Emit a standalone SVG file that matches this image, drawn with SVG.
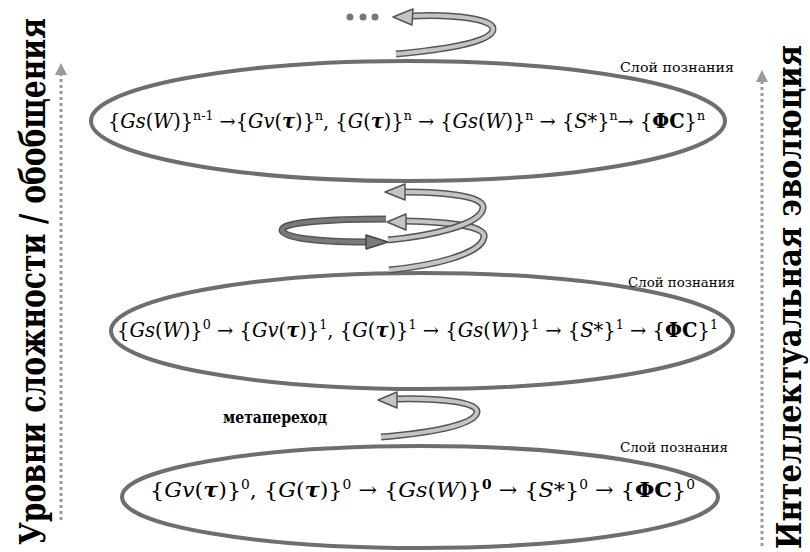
<svg xmlns="http://www.w3.org/2000/svg" width="810" height="552" viewBox="0 0 810 552" font-family="DejaVu Serif">
<style>
.ell{fill:none;stroke:#6e6e6e;stroke-width:4}
.formula{font-size:20px}
.i{font-style:italic}
.bi{font-style:italic;font-weight:bold}
.b{font-weight:bold}
.sup{font-size:13px;baseline-shift:8px}
.lbl{font-size:13.5px}
.side{font-size:29px;font-weight:bold}
.bo{fill:none;stroke:#555;stroke-width:7;stroke-linecap:butt}
.bl{fill:none;stroke:#c4c4c4;stroke-width:4;stroke-linecap:butt}
.bd{fill:none;stroke:#7a7a7a;stroke-width:4;stroke-linecap:butt}
.hl{fill:#c4c4c4;stroke:#555;stroke-width:1.5;stroke-linejoin:round}
.hd{fill:#7a7a7a;stroke:#444;stroke-width:1.5;stroke-linejoin:round}
.dot{fill:none;stroke:#9a9a9a;stroke-width:3;stroke-dasharray:3 3}
</style>
<defs>
<marker id="tri" viewBox="0 0 10 10" refX="0" refY="5" markerWidth="4" markerHeight="4.5" orient="auto" markerUnits="strokeWidth">
<path d="M0,0 L10,5 L0,10 Z" fill="#999"/>
</marker>
</defs>

<g id="layer-n">
<ellipse class="ell" cx="408" cy="121" rx="317" ry="60"/>
<text class="lbl" font-family="DejaVu Serif" x="620" y="72" textLength="114" lengthAdjust="spacingAndGlyphs">Слой познания</text>
<text class="formula" font-family="DejaVu Serif" x="108" y="128" textLength="597" lengthAdjust="spacingAndGlyphs">{<tspan class="i">Gs</tspan>(<tspan class="i">W</tspan>)}<tspan class="sup">n-1</tspan> →{<tspan class="i">Gv</tspan>(<tspan class="bi">τ</tspan>)}<tspan class="sup">n</tspan>, {<tspan class="i">G</tspan>(<tspan class="bi">τ</tspan>)}<tspan class="sup">n</tspan> → {<tspan class="i">Gs</tspan>(<tspan class="i">W</tspan>)}<tspan class="sup">n</tspan> → {<tspan class="i">S</tspan>*}<tspan class="sup">n</tspan>→ {<tspan class="b">ΦC</tspan>}<tspan class="sup">n</tspan></text>
</g>

<g id="layer-1">
<ellipse class="ell" cx="422" cy="331" rx="311" ry="58"/>
<text class="lbl" font-family="DejaVu Serif" x="628" y="287" textLength="107" lengthAdjust="spacingAndGlyphs">Слой познания</text>
<text class="formula" font-family="DejaVu Serif" x="117" y="337" textLength="601" lengthAdjust="spacingAndGlyphs">{<tspan class="i">Gs</tspan>(<tspan class="i">W</tspan>)}<tspan class="sup">0</tspan> → {<tspan class="i">Gv</tspan>(<tspan class="bi">τ</tspan>)}<tspan class="sup">1</tspan>, {<tspan class="i">G</tspan>(<tspan class="bi">τ</tspan>)}<tspan class="sup">1</tspan> → {<tspan class="i">Gs</tspan>(<tspan class="i">W</tspan>)}<tspan class="sup">1</tspan> → {<tspan class="i">S</tspan>*}<tspan class="sup">1</tspan> → {<tspan class="b">ΦC</tspan>}<tspan class="sup">1</tspan></text>
</g>

<g id="layer-0">
<ellipse class="ell" cx="420" cy="497" rx="298" ry="51"/>
<text class="lbl" font-family="DejaVu Serif" x="620" y="452" textLength="108" lengthAdjust="spacingAndGlyphs">Слой познания</text>
<text class="formula" font-family="DejaVu Serif" x="150" y="497" textLength="545" lengthAdjust="spacingAndGlyphs" style="font-size:21px">{<tspan class="i">Gv</tspan>(<tspan class="bi">τ</tspan>)}<tspan class="sup">0</tspan>, {<tspan class="i">G</tspan>(<tspan class="bi">τ</tspan>)}<tspan class="sup">0</tspan> → {<tspan class="i">Gs</tspan>(<tspan class="i">W</tspan>)}<tspan class="sup b">0</tspan> → {<tspan class="i">S</tspan>*}<tspan class="sup">0</tspan> → {<tspan class="b">ΦC</tspan>}<tspan class="sup">0</tspan></text>
</g>

<g id="metatransition-label">
<text class="b" font-family="DejaVu Serif" x="223" y="423" style="font-size:16px" textLength="104" lengthAdjust="spacingAndGlyphs">метапереход</text>
</g>

<g id="axis-left">
<text class="side" font-family="DejaVu Serif" transform="translate(45,545) rotate(-90) scale(1,1.2)" textLength="527" lengthAdjust="spacingAndGlyphs">Уровни сложности / обобщения</text>
</g>
<g id="axis-right">
<text class="side" font-family="DejaVu Serif" transform="translate(801,549) rotate(-90) scale(1,1.2)" style="font-size:28px" textLength="504" lengthAdjust="spacingAndGlyphs">Интеллектуальная эволюция</text>
</g>

<g id="connectors">
<line class="dot" x1="61" y1="520" x2="61" y2="75" marker-end="url(#tri)"/>
<line class="dot" x1="762" y1="546" x2="762" y2="82" marker-end="url(#tri)"/>

<g id="spiral-top">
<path class="bo" d="M411,16 C455,14 495,19 493,30 C490,43 440,50 396,54"/>
<path class="bl" d="M411,16 C455,14 495,19 493,30 C490,43 440,50 396,54"/>
<polygon class="hl" points="393,17 413,9 412,25"/>
<circle cx="350" cy="17" r="3.5" fill="#777"/>
<circle cx="363" cy="17" r="3.5" fill="#777"/>
<circle cx="375" cy="17" r="3.5" fill="#777"/>
</g>

<g id="spiral-middle">
<path class="bo" d="M404,221 C450,222 486,226 484,237 C481,255 430,266 389,270"/>
<path class="bl" d="M404,221 C450,222 486,226 484,237 C481,255 430,266 389,270"/>
<polygon class="hl" points="387,222 406,214 406,230"/>
<path class="bo" d="M404,192 C450,192 485,197 483,208 C481,225 430,236 388,240"/>
<path class="bl" d="M404,192 C450,192 485,197 483,208 C481,225 430,236 388,240"/>
<polygon class="hl" points="385,192 405,184 405,200"/>
<path class="bo" d="M386,219 C330,219 282,222 282,230 C282,238 320,242 367,242"/>
<path class="bd" d="M386,219 C330,219 282,222 282,230 C282,238 320,242 367,242"/>
<polygon class="hd" points="388,242 366,235 366,249"/>
</g>

<g id="spiral-meta">
<path class="bo" d="M396,399 C440,398 478,402 477,412 C475,425 430,433 381,437"/>
<path class="bl" d="M396,399 C440,398 478,402 477,412 C475,425 430,433 381,437"/>
<polygon class="hl" points="378,400 397,392 397,408"/>
</g>
</g>
</svg>
